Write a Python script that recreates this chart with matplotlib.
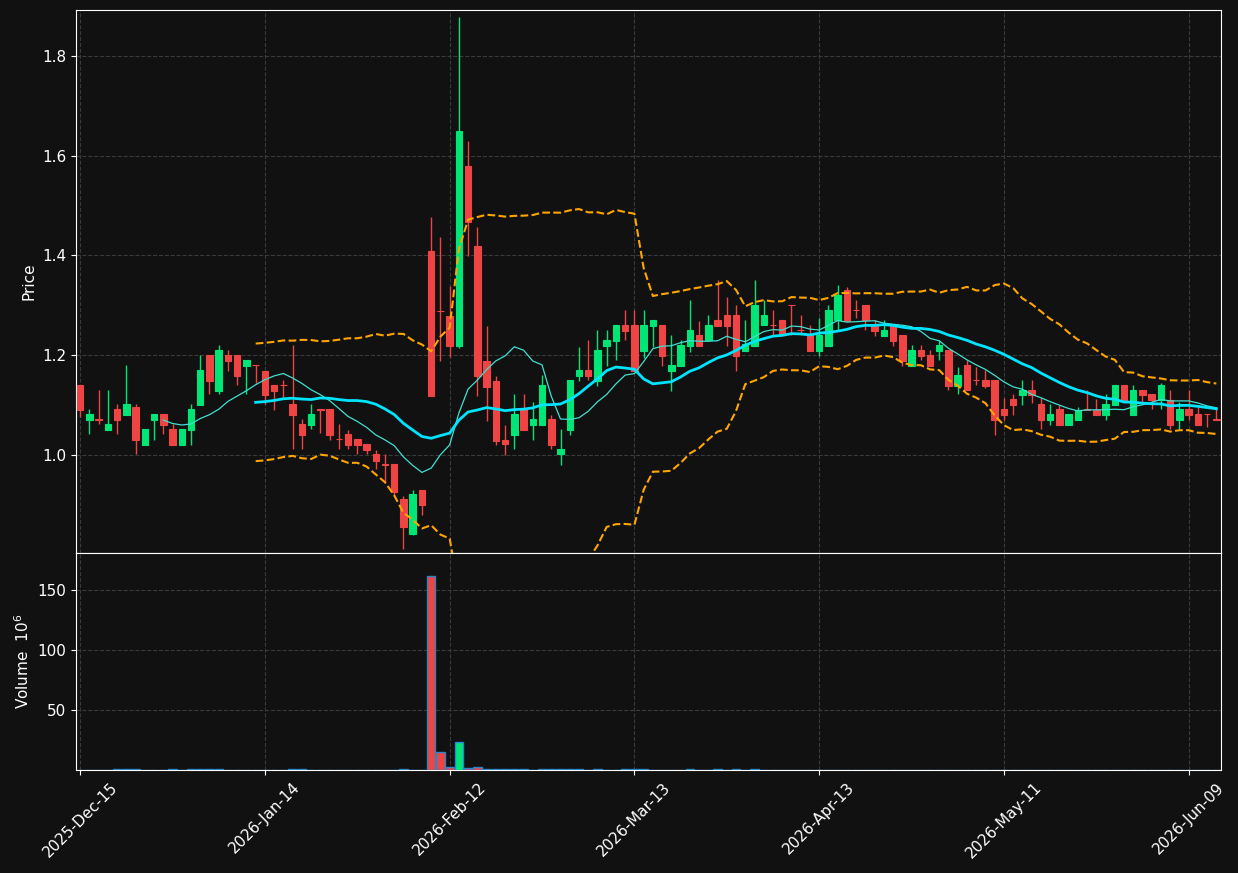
import matplotlib
matplotlib.use("Agg")
import matplotlib.pyplot as plt
import numpy as np
import pandas as pd

# ---------------- data ----------------
opens = [1.140, 1.070, 1.072, 1.050, 1.092, 1.080, 1.096, 1.020, 1.070, 1.082,
         1.052, 1.020, 1.050, 1.100, 1.200, 1.128, 1.200, 1.200, 1.179, 1.181,
         1.168, 1.140, 1.141, 1.102, 1.062, 1.060, 1.092, 1.092, 1.033, 1.042,
         1.032, 1.022, 1.002, 0.981, 0.982, 0.912, 0.841, 0.930, 1.409, 1.289,
         1.279, 1.218, 1.579, 1.418, 1.188, 1.149, 1.031, 1.040, 1.092, 1.060,
         1.060, 1.072, 1.001, 1.050, 1.159, 1.170, 1.149, 1.219, 1.229, 1.261,
         1.261, 1.209, 1.259, 1.261, 1.169, 1.179, 1.219, 1.241, 1.231, 1.271,
         1.281, 1.281, 1.209, 1.219, 1.261, 1.261, 1.271, 1.301, 1.251, 1.241,
         1.209, 1.219, 1.271, 1.331, 1.291, 1.301, 1.259, 1.239, 1.259, 1.241,
         1.179, 1.211, 1.201, 1.209, 1.211, 1.138, 1.181, 1.151, 1.150, 1.150,
         1.092, 1.112, 1.120, 1.130, 1.102, 1.070, 1.092, 1.060, 1.070, 1.092,
         1.090, 1.080, 1.100, 1.140, 1.080, 1.130, 1.122, 1.110, 1.110, 1.070,
         1.092, 1.082, 1.083, 1.072]
highs = [1.140, 1.092, 1.130, 1.130, 1.102, 1.180, 1.102, 1.052, 1.082, 1.082,
         1.062, 1.052, 1.102, 1.200, 1.200, 1.221, 1.210, 1.200, 1.190, 1.181,
         1.168, 1.140, 1.150, 1.221, 1.072, 1.102, 1.092, 1.092, 1.062, 1.050,
         1.032, 1.022, 1.009, 1.002, 0.982, 0.918, 0.930, 0.930, 1.478, 1.437,
         1.338, 1.878, 1.629, 1.458, 1.258, 1.159, 1.061, 1.122, 1.122, 1.106,
         1.160, 1.080, 1.052, 1.150, 1.216, 1.231, 1.251, 1.251, 1.261, 1.291,
         1.291, 1.291, 1.271, 1.261, 1.241, 1.231, 1.311, 1.269, 1.281, 1.351,
         1.316, 1.301, 1.271, 1.351, 1.311, 1.291, 1.271, 1.301, 1.281, 1.261,
         1.274, 1.301, 1.341, 1.336, 1.311, 1.301, 1.271, 1.271, 1.259, 1.241,
         1.221, 1.221, 1.211, 1.231, 1.211, 1.176, 1.191, 1.176, 1.170, 1.150,
         1.115, 1.122, 1.150, 1.150, 1.114, 1.102, 1.100, 1.082, 1.096, 1.130,
         1.112, 1.122, 1.140, 1.140, 1.140, 1.130, 1.122, 1.145, 1.130, 1.106,
         1.130, 1.096, 1.083, 1.092]
lows = [1.076, 1.042, 1.062, 1.050, 1.042, 1.080, 1.002, 1.020, 1.031, 1.042,
        1.020, 1.020, 1.020, 1.100, 1.122, 1.122, 1.169, 1.140, 1.122, 1.144,
        1.102, 1.091, 1.117, 1.011, 1.011, 1.052, 1.045, 1.031, 1.011, 1.011,
        1.002, 1.002, 0.971, 0.943, 0.917, 0.812, 0.840, 0.880, 1.119, 1.188,
        1.196, 1.215, 1.399, 1.119, 1.069, 1.020, 1.000, 1.011, 1.050, 1.031,
        1.060, 1.011, 0.979, 1.041, 1.149, 1.150, 1.139, 1.179, 1.190, 1.231,
        1.169, 1.194, 1.217, 1.179, 1.129, 1.179, 1.206, 1.219, 1.231, 1.259,
        1.219, 1.169, 1.209, 1.219, 1.261, 1.241, 1.241, 1.241, 1.241, 1.209,
        1.199, 1.219, 1.251, 1.269, 1.275, 1.251, 1.239, 1.239, 1.219, 1.179,
        1.179, 1.190, 1.179, 1.190, 1.130, 1.122, 1.130, 1.140, 1.135, 1.040,
        1.070, 1.080, 1.100, 1.104, 1.052, 1.060, 1.060, 1.060, 1.070, 1.091,
        1.080, 1.070, 1.100, 1.110, 1.080, 1.106, 1.092, 1.092, 1.052, 1.052,
        1.070, 1.060, 1.057, 1.071]
closes = [1.090, 1.082, 1.071, 1.062, 1.070, 1.102, 1.030, 1.052, 1.082, 1.060,
          1.020, 1.052, 1.092, 1.170, 1.148, 1.210, 1.189, 1.158, 1.190, 1.180,
          1.120, 1.128, 1.140, 1.080, 1.040, 1.082, 1.091, 1.040, 1.032, 1.020,
          1.020, 1.010, 0.987, 0.980, 0.925, 0.856, 0.921, 0.899, 1.119, 1.288,
          1.218, 1.649, 1.468, 1.158, 1.137, 1.029, 1.021, 1.082, 1.050, 1.072,
          1.140, 1.020, 1.012, 1.150, 1.170, 1.159, 1.210, 1.231, 1.261, 1.249,
          1.169, 1.261, 1.271, 1.199, 1.180, 1.220, 1.251, 1.219, 1.261, 1.259,
          1.259, 1.199, 1.223, 1.301, 1.281, 1.260, 1.241, 1.300, 1.250, 1.209,
          1.241, 1.291, 1.321, 1.269, 1.290, 1.271, 1.249, 1.251, 1.229, 1.189,
          1.211, 1.199, 1.179, 1.221, 1.138, 1.160, 1.130, 1.150, 1.138, 1.070,
          1.080, 1.100, 1.130, 1.120, 1.070, 1.082, 1.060, 1.082, 1.090, 1.091,
          1.080, 1.102, 1.140, 1.110, 1.130, 1.120, 1.110, 1.140, 1.060, 1.092,
          1.080, 1.060, 1.082, 1.071]
volumes = [0, 0, 0, 0, 0.6, 0.6, 1.2, 0, 0, 0,
           0.6, 0, 0.6, 1.2, 0.6, 0.6, 0, 0, 0, 0,
           0, 0, 0, 1.2, 0.6, 0, 0, 0, 0, 0,
           0, 0, 0, 0, 0, 0.6, 0, 0, 162, 15.2,
           2.8, 23.4, 1.9, 2.8, 1.2, 0.6, 0.6, 0.6, 0.6, 0,
           0.6, 0.6, 0.6, 0.6, 0.6, 0, 0.6, 0, 0, 0.6,
           0.6, 0.6, 0, 0, 0, 0, 0.6, 0, 0, 0.6,
           0, 0.6, 0, 0.6, 0, 0, 0, 0, 0, 0,
           0, 0, 0, 0, 0, 0, 0, 0, 0, 0,
           0, 0, 0, 0, 0, 0, 0, 0, 0, 0,
           0, 0, 0, 0, 0, 0, 0, 0, 0, 0,
           0, 0, 0, 0, 0, 0, 0, 0, 0, 0,
           0, 0, 0, 0]
tick_idx = [0, 20, 40, 60, 80, 100, 120]
tick_labels = ["2025-Dec-15", "2026-Jan-14", "2026-Feb-12", "2026-Mar-13",
               "2026-Apr-13", "2026-May-11", "2026-Jun-09"]

# ---------------- style ----------------
BG = "#111111"
UP = "#00e676"
DOWN = "#ef4444"
GRID = "#3a3a3a"

o = np.array(opens); h = np.array(highs); l = np.array(lows); c = np.array(closes)
v = np.array(volumes)
x = np.arange(len(c))
cs = pd.Series(c)
ma10 = cs.rolling(10).mean()
ma20 = cs.rolling(20).mean()
sd20 = cs.rolling(20).std()
bb_up = ma20 + 2 * sd20
bb_lo = ma20 - 2 * sd20

up = c >= o
colors = np.where(up, UP, DOWN)

fig = plt.figure(figsize=(12.38, 8.73), dpi=100, facecolor=BG)
L, R = 76 / 1238, 1221 / 1238
ax = fig.add_axes([L, 1 - 553 / 873, R - L, (553 - 10) / 873], facecolor=BG)
axv = fig.add_axes([L, 1 - 770 / 873, R - L, (770 - 553) / 873], facecolor=BG, sharex=ax)

# candles
ax.vlines(x, l, h, colors=colors, linewidth=1.0, zorder=3)
body_bot = np.minimum(o, c)
body_h = np.abs(c - o)
ax.bar(x, body_h, bottom=body_bot, width=0.7, color=colors, edgecolor=colors,
       linewidth=0.8, zorder=4)

# moving averages and bands
ax.plot(x, ma10, color="#40e0d0", linewidth=0.9, zorder=5)
ax.plot(x, ma20, color="#00e5ff", linewidth=2.0, zorder=5)
ax.plot(x, bb_up, color="#ffa500", linewidth=1.5, linestyle="--", zorder=5)
ax.plot(x, bb_lo, color="#ffa500", linewidth=1.5, linestyle="--", zorder=5)

# volume
axv.bar(x, v, width=0.9, color=colors, edgecolor="#2a86c8", linewidth=1.0, zorder=3)

ax.set_xlim(-0.45, 123.5)
ax.set_ylim(0.8035, 1.892)
ax.set_yticks([1.0, 1.2, 1.4, 1.6, 1.8])
axv.set_ylim(0, 181)
axv.set_yticks([50, 100, 150])

for a in (ax, axv):
    a.grid(True, color=GRID, linestyle="--", linewidth=0.8)
    a.set_axisbelow(True)
    for s in a.spines.values():
        s.set_color("white")
    a.tick_params(colors="white", labelsize=11)

axv.set_xticks(tick_idx)
axv.set_xticklabels(tick_labels, rotation=45, ha="center")
ax.tick_params(axis="x", labelbottom=False, length=0)
ax.set_ylabel("Price", color="white", fontsize=11)
axv.set_ylabel("Volume  $10^{6}$", color="white", fontsize=11)

fig.savefig("out.png", dpi=100, facecolor=BG)
